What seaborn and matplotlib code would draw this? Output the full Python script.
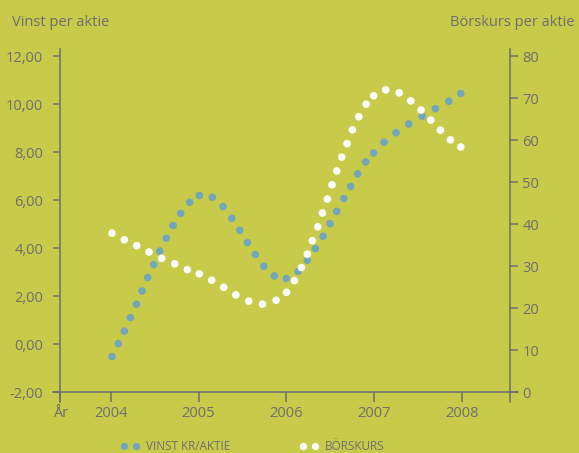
import numpy as np
import pandas as pd
import matplotlib
matplotlib.use("Agg")
import matplotlib.pyplot as plt
from matplotlib.lines import Line2D
import seaborn as sns

# Earnings per share (SEK), dotted curve read along the time axis
eps_year = [2004.015, 2004.087, 2004.155, 2004.223, 2004.292, 2004.356, 2004.421,
            2004.490, 2004.558, 2004.633, 2004.710, 2004.797, 2004.900, 2005.009,
            2005.157, 2005.279, 2005.378, 2005.469, 2005.556, 2005.647, 2005.743,
            2005.863, 2006.000, 2006.133, 2006.239, 2006.330, 2006.418, 2006.498,
            2006.574, 2006.654, 2006.733, 2006.813, 2006.904, 2006.995, 2007.113,
            2007.249, 2007.394, 2007.546, 2007.697, 2007.850, 2007.986]
eps_value = [-0.51, 0.03, 0.55, 1.11, 1.67, 2.22, 2.78, 3.32, 3.88, 4.42, 4.95,
             5.46, 5.92, 6.20, 6.13, 5.74, 5.25, 4.75, 4.24, 3.74, 3.25, 2.85,
             2.74, 3.04, 3.50, 3.99, 4.50, 5.03, 5.54, 6.07, 6.58, 7.10, 7.60,
             7.97, 8.42, 8.82, 9.18, 9.50, 9.82, 10.13, 10.45]

# Share price (SEK)
price_year = [2004.015, 2004.155, 2004.296, 2004.436, 2004.581, 2004.729, 2004.872,
              2005.009, 2005.150, 2005.287, 2005.424, 2005.572, 2005.727, 2005.883,
              2006.002, 2006.091, 2006.171, 2006.239, 2006.296, 2006.358, 2006.410,
              2006.467, 2006.520, 2006.574, 2006.631, 2006.691, 2006.752, 2006.825,
              2006.908, 2006.995, 2007.132, 2007.284, 2007.417, 2007.534, 2007.645,
              2007.754, 2007.868, 2007.986]
price_value = [37.9, 36.3, 34.9, 33.4, 31.9, 30.6, 29.2, 28.2, 26.7, 25.0, 23.2,
               21.7, 21.0, 21.9, 23.8, 26.6, 29.7, 32.9, 36.1, 39.4, 42.7, 46.0,
               49.4, 52.7, 56.0, 59.2, 62.5, 65.6, 68.6, 70.6, 72.0, 71.3, 69.4,
               67.2, 64.8, 62.4, 60.1, 58.4]

year_ticks = [2004, 2005, 2006, 2007, 2008]
year_labels = ["2004", "2005", "2006", "2007", "2008"]
eps_ticks = [-2, 0, 2, 4, 6, 8, 10, 12]
eps_labels = ["-2,00", "0,00", "2,00", "4,00", "6,00", "8,00", "10,00", "12,00"]
price_ticks = [0, 10, 20, 30, 40, 50, 60, 70, 80]
price_labels = ["0", "10", "20", "30", "40", "50", "60", "70", "80"]

BG = "#c8ca49"
INK = "#6e6e6e"
BLUE = "#71a7b8"
WHITE = "#ffffff"

sns.set_style("ticks")
plt.rcParams["font.family"] = ["Open Sans", "DejaVu Sans"]
plt.rcParams["text.color"] = INK
plt.rcParams["xtick.color"] = INK
plt.rcParams["ytick.color"] = INK

eps_df = pd.DataFrame({"year": eps_year, "eps": eps_value})
price_df = pd.DataFrame({"year": price_year, "price": price_value})

fig = plt.figure(figsize=(5.79, 4.53), dpi=100, facecolor=BG)
W, H = 579, 453
x0, x1 = 60.3, 510.3
y_top, y_bot = 56.3, 392.3
ax = fig.add_axes([x0 / W, 1 - y_bot / H, (x1 - x0) / W, (y_bot - y_top) / H])
ax.set_facecolor("none")
ax2 = ax.twinx()
ax2.set_facecolor("none")

sns.scatterplot(data=eps_df, x="year", y="eps", ax=ax, color=BLUE, s=30,
                edgecolor="none", linewidth=0, legend=False, zorder=3)
sns.scatterplot(data=price_df, x="year", y="price", ax=ax2, color=WHITE, s=30,
                edgecolor="none", linewidth=0, legend=False, zorder=3)

xmin, xmax = 2003.426, 2008.55
ax.set_xlim(xmin, xmax)
ax.set_ylim(-2, 12)
ax2.set_ylim(0, 80)

ax.set_xticks([xmin] + year_ticks)
ax.set_xticklabels(["År"] + year_labels)
ax.set_yticks(eps_ticks)
ax.set_yticklabels(eps_labels)
ax2.set_yticks(price_ticks)
ax2.set_yticklabels(price_labels)

ax.set_xlabel("")
ax.set_ylabel("")
ax2.set_xlabel("")
ax2.set_ylabel("")

for a in (ax, ax2):
    for s in a.spines.values():
        s.set_color(INK)
        s.set_linewidth(1.1)
    a.spines["top"].set_visible(False)
ax.spines["right"].set_visible(False)
ax2.spines["left"].set_visible(False)
ax2.spines["bottom"].set_visible(False)

# spines run a little past the tick range, as in the printed chart
ax.spines["left"].set_bounds(-2 - 10 / 24, 12 + 7 / 24)
ax2.spines["right"].set_bounds(0 - 10 / 4.2, 80 + 7 / 4.2)
ax.spines["bottom"].set_bounds(xmin - 7 / 87.8, xmax + 8 / 87.8)
for sp in (ax.spines["left"], ax2.spines["right"], ax.spines["bottom"]):
    sp.set_clip_on(False)

ax.tick_params(axis="x", direction="out", length=7.2, width=1.1, labelsize=10.5,
               colors=INK, pad=3)
ax.tick_params(axis="y", direction="out", length=5, width=1.1, labelsize=10.5,
               colors=INK, pad=7.2)
ax2.tick_params(axis="y", direction="out", length=5.8, width=1.1, labelsize=10.5,
                colors=INK, pad=2.8)

fig.text(12 / W, 1 - 23 / H, "Vinst per aktie", ha="left", va="center",
         fontsize=10.5, color=INK)
fig.text(575 / W, 1 - 23 / H, "Börskurs per aktie", ha="right", va="center",
         fontsize=10.5, color=INK)

# legend: two dots in front of each series name
def dots(c):
    return Line2D([], [], marker="o", linestyle="", color=c, markersize=5.3,
                  markeredgewidth=0)

leg_kw = dict(frameon=False, numpoints=2, handlelength=1.62, handletextpad=0.55,
              borderpad=0, borderaxespad=0, fontsize=8.5, labelcolor=INK,
              loc="center left")
leg1 = fig.legend([dots(BLUE)], ["VINST KR/AKTIE"],
                  bbox_to_anchor=(120 / W, 6.5 / H), **leg_kw)
leg2 = fig.legend([dots(WHITE)], ["BÖRSKURS"],
                  bbox_to_anchor=(299 / W, 6.5 / H), **leg_kw)

fig.savefig("out.png", dpi=100, facecolor=BG)
